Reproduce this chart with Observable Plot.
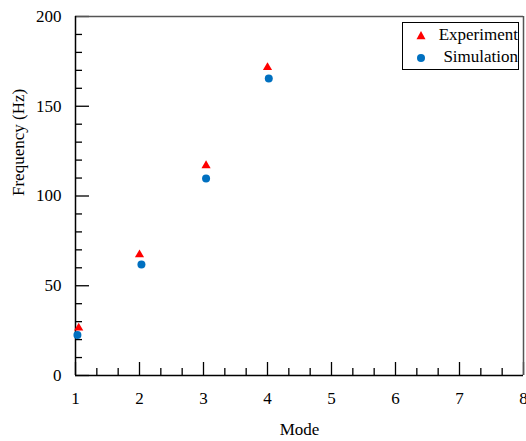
<!DOCTYPE html>
<html>
<head>
<meta charset="utf-8">
<script src="https://cdn.jsdelivr.net/npm/d3@7"></script>
<script src="https://cdn.jsdelivr.net/npm/@observablehq/plot@0.6"></script>
<style>
  body { margin: 0; background: #fff; }
  #wrap { position: relative; width: 526px; height: 441px; font-family: "Liberation Serif", "DejaVu Serif", serif; }
  #legend { position: absolute; left: 402px; top: 22px; width: 115px; height: 46px; border: 1px solid #000; background: #fff; font-size: 17px; color: #000; }
  #legend .row { position: absolute; left: 0; width: 115px; height: 22px; white-space: nowrap; }
  #legend svg { position: absolute; left: 10px; top: 6px; }
  #legend span { position: absolute; right: 0px; top: 0px; line-height: 22px; }
</style>
</head>
<body>
<div id="wrap"></div>
<script>
const seriesNames = ["Experiment", "Simulation"];
const seriesColors = ["#ff0000", "#0070c0"];
const expX = [1.05, 2.0, 3.04, 4.0];
const expY = [26.5, 67.3, 117, 171.6];
const simX = [1.03, 2.03, 3.04, 4.02];
const simY = [22.5, 61.8, 109.8, 165.5];
const xMajor = [1, 2, 3, 4, 5, 6, 7, 8];
const yMajor = [0, 50, 100, 150, 200];
const xMinor = d3.range(1, 8, 1/3).filter((d, i) => i % 3 !== 0);
const yMinor = d3.range(0, 201, 10).filter(d => d % 50 !== 0);

const exp = expX.map((x, i) => ({x, y: expY[i]}));
const sim = simX.map((x, i) => ({x, y: simY[i]}));

const chart = Plot.plot({
  width: 526,
  height: 441,
  marginLeft: 75,
  marginRight: 3,
  marginTop: 16,
  marginBottom: 66,
  style: {fontFamily: "'Liberation Serif', 'DejaVu Serif', serif", fontSize: "17px", color: "#000", background: "#fff"},
  x: {domain: [1, 8], label: null},
  y: {domain: [0, 200], label: null},
  marks: [
    Plot.axisX(xMajor, {tickSize: -13, text: null, label: null, stroke: "#000", strokeWidth: 1.3}),
    Plot.axisX(xMinor, {tickSize: -7, text: null, label: null, stroke: "#000", strokeWidth: 1.3}),
    Plot.axisX(xMajor, {tickSize: 0, tickPadding: 16, label: null, fontSize: 17, fill: "#000"}),
    Plot.axisY(yMajor, {tickSize: -14, text: null, label: null, stroke: "#000", strokeWidth: 1.3}),
    Plot.axisY(yMinor, {tickSize: -7, text: null, label: null, stroke: "#000", strokeWidth: 1.3}),
    Plot.axisY(yMajor, {tickSize: 0, tickPadding: 14, label: null, fontSize: 17, fill: "#000"}),
    Plot.ruleY([200], {stroke: "#555", strokeWidth: 1.5}),
    Plot.ruleX([8], {stroke: "#555", strokeWidth: 1.5}),
    Plot.ruleX([1], {stroke: "#000", strokeWidth: 1.5}),
    Plot.ruleY([0], {stroke: "#000", strokeWidth: 1.5}),
    Plot.dot(exp, {x: "x", y: "y", symbol: "triangle", r: 3.4, fill: seriesColors[0], stroke: "none"}),
    Plot.dot(sim, {x: "x", y: "y", symbol: "circle", r: 4, fill: seriesColors[1], stroke: "none"}),
    Plot.text(["Mode"], {frameAnchor: "bottom", dy: 59, fontSize: 17, fill: "#000", lineAnchor: "bottom", fontWeight: "normal"}),
    Plot.text(["Frequency (Hz)"], {frameAnchor: "left", dx: -57, rotate: -90, fontSize: 17, fill: "#000", fontWeight: "normal"})
  ]
});

const wrap = document.getElementById("wrap");
wrap.appendChild(chart);

const legend = document.createElement("div");
legend.id = "legend";
const syms = [
  '<svg width="16" height="12" viewBox="-8 -6 16 12"><path d="M0,-5L4.5,3.2L-4.5,3.2Z" fill="' + seriesColors[0] + '"/></svg>',
  '<svg width="16" height="12" viewBox="-8 -6 16 12"><circle r="4" fill="' + seriesColors[1] + '"/></svg>'
];
seriesNames.forEach((name, i) => {
  const row = document.createElement("div");
  row.className = "row";
  row.style.top = (i * 22 + 1) + "px";
  row.innerHTML = syms[i] + "<span>" + name + "</span>";
  legend.appendChild(row);
});
wrap.appendChild(legend);
</script>
</body>
</html>
